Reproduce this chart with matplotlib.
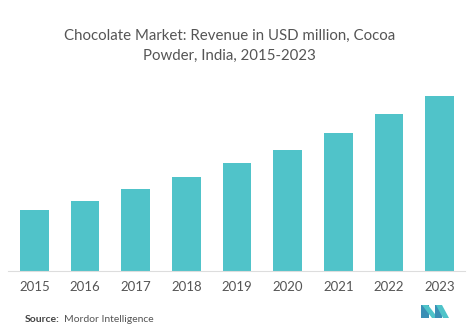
import matplotlib
matplotlib.use("Agg")
import matplotlib.pyplot as plt
from matplotlib.patches import Polygon

plt.rcParams["font.family"] = ["Lato", "DejaVu Sans"]

# values (arbitrary units, relative bar heights)
years = ["2015", "2016", "2017", "2018", "2019", "2020", "2021", "2022", "2023"]
revenue = [61.0, 70.3, 82.0, 94.0, 107.7, 121.3, 137.7, 156.7, 175.3]

BAR_COLOR = "#50C3C9"
TEXT_COLOR = "#555555"

fig = plt.figure(figsize=(4.74, 3.32), dpi=100)
ax = fig.add_axes([8 / 474, 1 - 271 / 332, 457 / 474, 191 / 332])

x = range(len(years))
ax.bar(x, revenue, width=0.56, color=BAR_COLOR, zorder=2)
ax.set_xlim(-0.52, 8.5)
ax.set_ylim(0, 191)

for side in ["left", "right", "top"]:
    ax.spines[side].set_visible(False)
ax.spines["bottom"].set_color("#dddddd")
ax.spines["bottom"].set_linewidth(0.8)
ax.set_yticks([])
ax.set_xticks(list(x))
ax.set_xticklabels(years, fontsize=9.5, color=TEXT_COLOR)
ax.tick_params(axis="x", length=0, pad=7)

fig.text(0.484, 1 - 36 / 332, "Chocolate Market: Revenue in USD million, Cocoa",
         ha="center", va="center", fontsize=10.8, color=TEXT_COLOR)
fig.text(0.484, 1 - 56 / 332, "Powder, India, 2015-2023",
         ha="center", va="center", fontsize=10.8, color=TEXT_COLOR)

fig.text(25 / 474, 1 - 319 / 332, "Source:", ha="left", va="center",
         fontsize=7.5, fontweight="bold", color="#444444")
fig.text(64 / 474, 1 - 319 / 332, "Mordor Intelligence", ha="left", va="center",
         fontsize=7.5, color=TEXT_COLOR)

# simple logo mark, bottom right
def px(xp, yp):
    return (xp / 474, 1 - yp / 332)

logo = [
    ([px(421, 318), px(421, 305), px(429, 305), px(429, 318)], "#3a8fb5"),
    ([px(422, 305), px(428, 305), px(438, 318), px(432, 318)], "#4fc3c9"),
    ([px(435, 318), px(435, 305), px(442, 305), px(442, 318)], "#3a8fb5"),
    ([px(436, 305), px(442, 305), px(449, 318), px(443, 318)], "#4fc3c9"),
]
for pts, col in logo:
    fig.patches.append(Polygon(pts, closed=True, transform=fig.transFigure,
                               facecolor=col, edgecolor="none"))

fig.savefig("out.png", dpi=100)
